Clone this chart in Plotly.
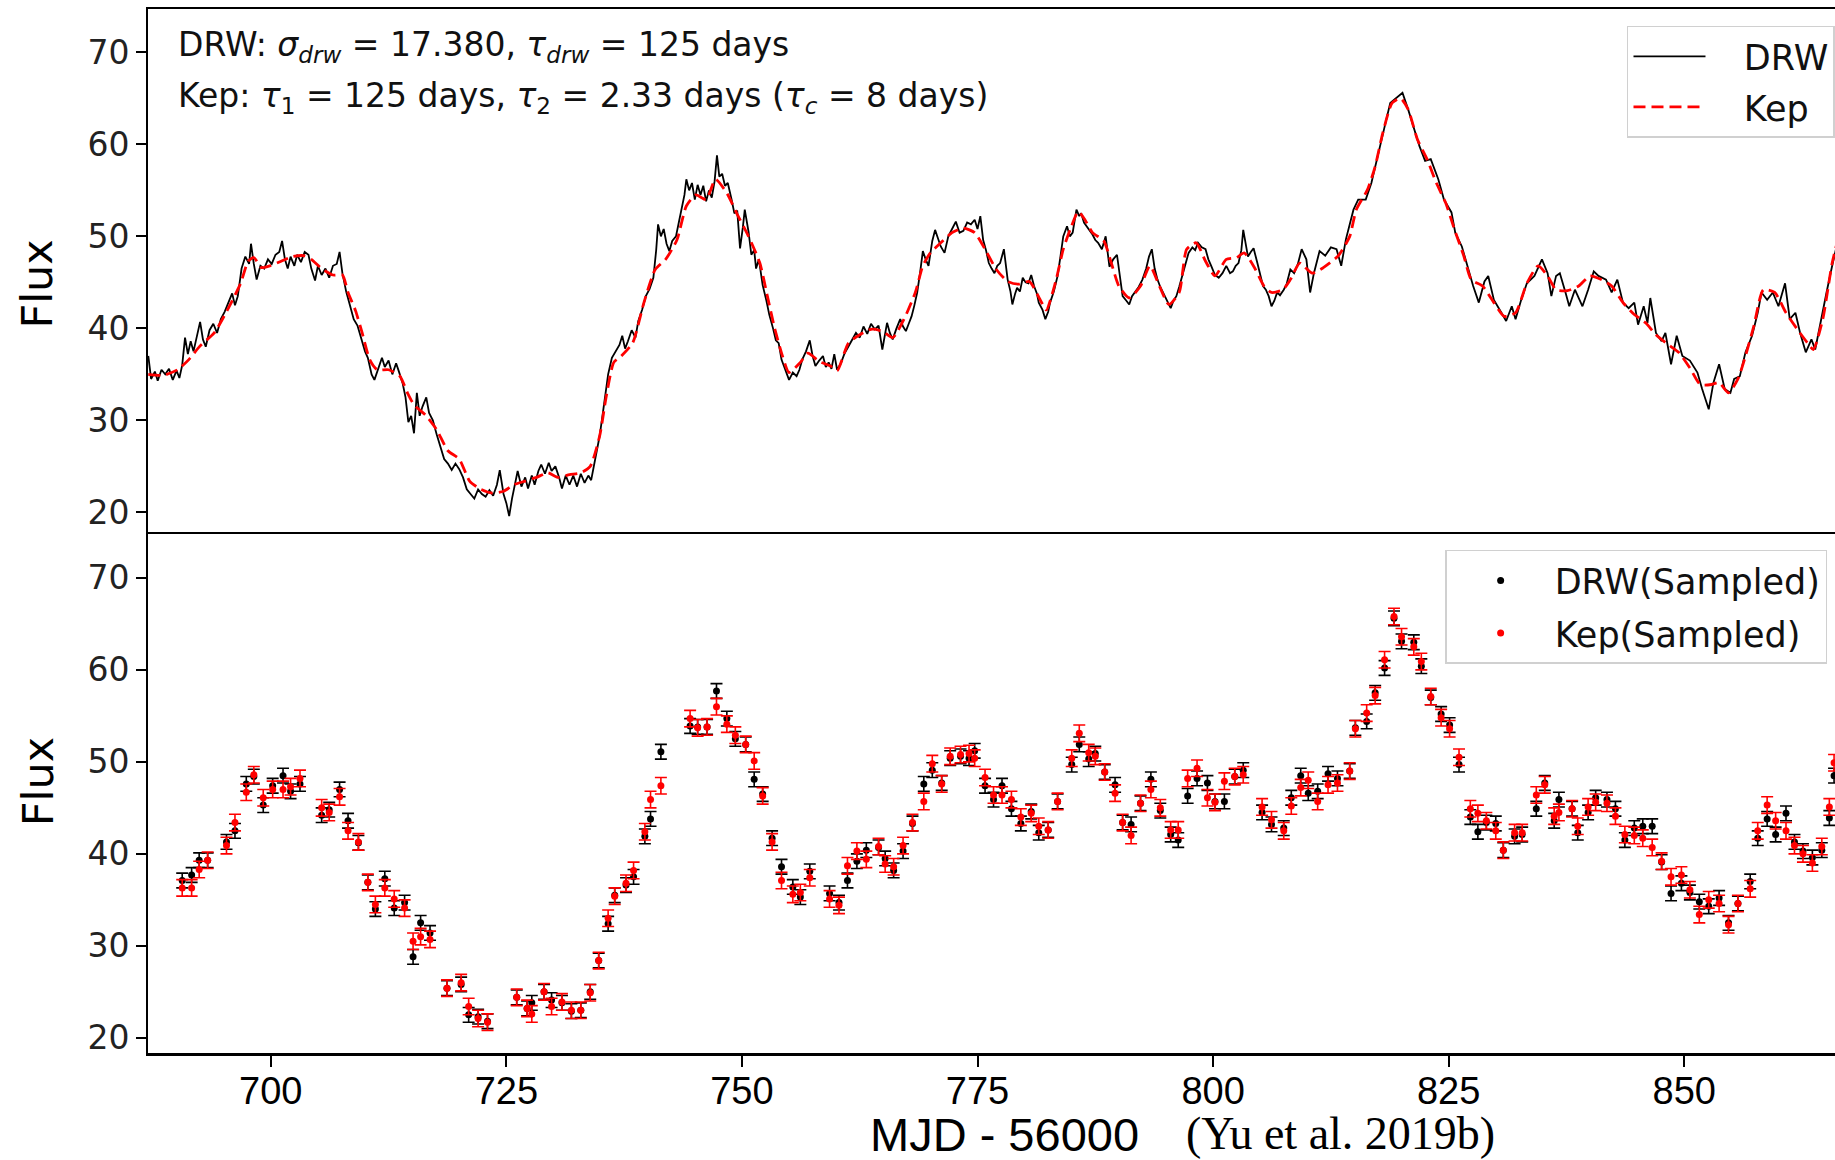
import plotly.graph_objects as go

# ---------------- continuous light curves (top panel) ----------------
drw_t = [687.0, 687.3, 687.7, 688.0, 688.4, 688.8, 689.2, 689.6, 690.0, 690.3, 690.6, 690.9, 691.2, 691.5, 691.8,
         692.1, 692.5, 692.8, 693.1, 693.5, 693.9, 694.3, 694.7, 695.1, 695.5, 695.9, 696.2, 696.5, 696.9, 697.3,
         697.7, 697.9, 698.2, 698.5, 698.9, 699.3, 699.7, 700.1, 700.5, 700.9, 701.2, 701.5, 701.8, 702.1, 702.5,
         702.8, 703.2, 703.6, 704.0, 704.3, 704.7, 705.0, 705.4, 705.8, 706.2, 706.6, 707.0, 707.3, 707.6, 708.0,
         708.4, 708.8, 709.2, 709.6, 710.0, 710.3, 710.7, 711.0, 711.4, 711.8, 712.1, 712.5, 712.9, 713.3, 713.6,
         714.0, 714.3, 714.6, 714.9, 715.2, 715.5, 715.8, 716.1, 716.5, 716.8, 717.2, 717.6, 718.0, 718.4, 718.8,
         719.2, 719.6, 720.0, 720.4, 720.8, 721.2, 721.6, 722.0, 722.4, 722.8, 723.2, 723.6, 724.0, 724.3, 724.7,
         725.0, 725.3, 725.6, 725.9, 726.2, 726.6, 727.0, 727.3, 727.7, 728.0, 728.4, 728.7, 729.1, 729.5, 729.8,
         730.2, 730.6, 730.9, 731.3, 731.7, 732.1, 732.5, 732.9, 733.3, 733.7, 734.0, 734.3, 734.6, 734.9, 735.2,
         735.5, 735.8, 736.2, 736.6, 737.0, 737.3, 737.6, 737.9, 738.3, 738.7, 739.0, 739.4, 739.8, 740.2, 740.6,
         740.9, 741.1, 741.4, 741.7, 742.0, 742.3, 742.6, 743.0, 743.3, 743.6, 743.9, 744.1, 744.4, 744.7, 745.0,
         745.3, 745.6, 745.9, 746.2, 746.5, 746.8, 747.1, 747.35, 747.6, 747.9, 748.2, 748.5, 748.9, 749.2, 749.5,
         749.8, 750.1, 750.3, 750.7, 751.0, 751.3, 751.5, 751.8, 752.2, 752.6, 752.9, 753.3, 753.6, 753.9, 754.2,
         754.6, 755.0, 755.4, 755.8, 756.1, 756.4, 756.8, 757.2, 757.5, 757.8, 758.2, 758.6, 758.9, 759.2, 759.5,
         759.8, 760.1, 760.5, 760.9, 761.3, 761.7, 762.1, 762.5, 762.9, 763.3, 763.7, 764.1, 764.5, 764.9, 765.2,
         765.4, 765.7, 766.0, 766.4, 766.8, 767.1, 767.4, 767.7, 768.0, 768.3, 768.6, 768.9, 769.2, 769.5, 769.8,
         770.2, 770.5, 770.8, 771.1, 771.5, 771.9, 772.3, 772.7, 773.1, 773.5, 773.9, 774.3, 774.7, 775.0, 775.3,
         775.6, 775.9, 776.2, 776.5, 776.8, 777.1, 777.4, 777.8, 778.2, 778.5, 778.7, 779.0, 779.2, 779.5, 779.8,
         780.1, 780.4, 780.7, 781.0, 781.3, 781.5, 781.9, 782.2, 782.5, 782.7, 783.1, 783.5, 783.8, 784.1, 784.5,
         784.8, 785.1, 785.5, 785.8, 786.0, 786.3, 786.6, 786.9, 787.2, 787.5, 787.8, 788.2, 788.6, 789.0, 789.4,
         789.8, 790.1, 790.4, 790.8, 791.1, 791.4, 791.7, 792.1, 792.5, 792.9, 793.2, 793.5, 793.8, 794.1, 794.4,
         794.7, 795.1, 795.5, 795.8, 796.1, 796.4, 796.6, 797.0, 797.4, 797.8, 798.1, 798.4, 798.8, 799.2, 799.5,
         799.8, 800.2, 800.6, 801.0, 801.4, 801.8, 802.1, 802.4, 802.7, 803.0, 803.2, 803.5, 803.7, 804.0, 804.3,
         804.7, 805.0, 805.3, 805.6, 805.9, 806.2, 806.5, 806.8, 807.1, 807.5, 807.8, 808.2, 808.6, 809.0, 809.4,
         809.9, 810.3, 810.7, 811.3, 811.9, 812.5, 813.1, 813.6, 814.1, 814.9, 815.4, 816.2, 816.8, 817.6, 818.2,
         818.8, 819.4, 820.1, 820.7, 821.3, 821.9, 822.5, 823.1, 823.9, 824.5, 825.3, 825.7, 826.4, 827.0, 827.6,
         828.2, 828.8, 829.2, 829.8, 830.6, 831.1, 831.7, 832.1, 832.7, 833.3, 834.1, 834.9, 835.5, 835.9, 836.4,
         836.8, 837.4, 837.8, 838.4, 839.2, 839.8, 840.4, 840.9, 841.7, 842.3, 842.9, 843.5, 844.1, 844.7, 845.1,
         845.7, 846.1, 846.4, 847.0, 847.6, 848.0, 848.6, 849.2, 849.8, 850.6, 851.4, 851.9, 852.6, 853.1, 853.7,
         854.3, 854.9, 855.3, 855.9, 856.5, 857.2, 857.8, 858.2, 858.8, 859.4, 860.0, 860.7, 861.2, 861.8, 862.3,
         862.9, 863.5, 863.9, 864.5, 865.1, 865.7, 866.5]
drw_f = [37.0, 34.5, 35.3, 34.3, 35.5, 35.0, 35.6, 34.4, 35.4, 34.6, 36.0, 39.0, 37.2, 38.6, 37.5,
         39.0, 40.7, 38.8, 38.0, 39.8, 40.5, 39.5, 41.0, 41.8, 42.8, 43.8, 42.5, 43.5, 46.5, 47.8,
         47.0, 49.2, 47.0, 45.3, 46.8, 46.5, 47.5, 47.0, 48.0, 48.3, 49.5, 47.5, 46.5, 47.8, 46.8,
         48.0, 47.2, 48.3, 48.0, 46.5, 45.2, 46.8, 45.8, 46.5, 45.5, 46.8, 47.0, 48.3, 46.0, 44.0,
         42.5, 41.0, 40.3, 39.0, 37.5, 36.8, 35.0, 34.4, 35.5, 36.8, 35.8, 36.5, 35.0, 36.2, 35.3,
         34.0, 32.5, 29.8, 30.5, 28.6, 33.0, 30.5, 31.5, 32.5, 30.8, 30.0, 28.5, 27.2, 25.8, 25.3,
         24.6, 25.3, 24.7, 23.8, 22.5, 22.0, 21.5, 22.5, 22.0, 21.7, 22.4, 21.8, 23.0, 24.6, 22.0,
         21.0, 19.6, 21.5, 23.0, 24.5, 22.8, 23.8, 22.6, 24.0, 23.0, 24.5, 25.2, 24.2, 25.4, 24.5,
         25.0, 23.8, 22.6, 24.0, 23.0, 24.0, 22.8, 24.2, 23.2, 24.0, 23.5, 25.0, 26.5, 28.3, 30.5,
         32.8, 35.0, 36.8, 37.5, 38.2, 39.2, 37.8, 38.6, 39.8, 39.0, 40.8, 42.0, 43.5, 44.3, 45.5,
         48.5, 51.3, 50.0, 50.8, 49.2, 48.4, 49.5, 50.0, 51.5, 53.0, 54.5, 56.2, 55.0, 55.8, 54.0,
         55.6, 54.5, 55.5, 53.8, 55.0, 54.2, 56.0, 58.8, 56.5, 56.8, 55.5, 55.8, 54.0, 52.5, 52.8,
         48.7, 51.0, 52.9, 50.5, 48.0, 48.5, 46.5, 47.5, 44.7, 43.0, 41.5, 40.0, 38.7, 38.4, 36.6,
         35.5, 34.4, 35.2, 34.8, 35.5, 36.6, 37.5, 38.7, 37.0, 35.9, 36.5, 37.0, 35.8, 36.3, 35.6,
         37.2, 35.5, 36.2, 37.3, 38.0, 38.8, 39.5, 39.0, 40.2, 39.4, 40.5, 39.9, 40.3, 37.7, 39.5,
         40.6, 39.5, 38.8, 40.0, 41.0, 40.2, 39.7, 40.5, 41.3, 42.5, 43.9, 46.0, 48.4, 47.5, 46.8,
         49.5, 50.7, 49.8, 48.9, 48.2, 50.0, 50.8, 51.6, 50.4, 50.6, 51.5, 51.3, 51.8, 50.8, 52.2,
         49.6, 48.5, 47.1, 46.5, 46.0, 46.8, 47.1, 48.6, 45.3, 44.0, 42.6, 43.8, 44.4, 44.0, 45.5,
         45.0, 44.9, 45.8, 44.6, 43.8, 42.8, 42.0, 41.0, 41.8, 42.8, 44.0, 45.7, 47.8, 50.0, 51.1,
         50.0, 50.4, 52.9, 52.2, 52.5, 51.5, 51.1, 50.6, 50.2, 49.6, 49.3, 48.6, 50.0, 46.7, 47.5,
         48.0, 45.5, 43.5, 43.0, 42.6, 43.5, 43.9, 44.5, 45.3, 46.5, 47.8, 48.6, 46.5, 45.3, 44.5,
         43.9, 43.0, 42.2, 43.0, 43.5, 44.5, 45.3, 46.8, 48.2, 48.8, 48.5, 49.3, 48.8, 48.6, 47.5,
         46.8, 45.8, 45.5, 46.0, 46.8, 46.0, 46.2, 46.8, 47.1, 48.5, 50.7, 49.0, 47.8, 48.3, 48.7,
         47.1, 45.7, 44.6, 44.2, 43.5, 42.4, 43.0, 43.9, 43.6, 44.2, 44.8, 46.4, 46.0, 47.0, 48.6,
         47.5, 43.9, 46.0, 48.4, 47.9, 48.8, 48.6, 46.8, 49.7, 52.9, 54.0, 54.0, 55.8, 59.1, 61.9,
         64.5, 65.0, 65.6, 63.8, 61.9, 59.8, 58.2, 58.4, 56.2, 54.0, 52.6, 50.4, 48.9, 46.8, 44.6,
         42.8, 45.1, 45.7, 43.1, 41.7, 40.8, 42.4, 41.0, 43.1, 44.9, 45.7, 47.5, 46.0, 43.5, 45.7,
         46.0, 43.9, 42.4, 44.2, 42.4, 44.2, 46.2, 45.7, 45.3, 43.9, 45.3, 42.8, 42.2, 42.8, 40.4,
         42.4, 40.6, 43.3, 39.5, 38.6, 39.5, 36.1, 39.2, 37.0, 36.5, 35.2, 33.4, 31.2, 34.1, 36.1,
         33.4, 33.0, 34.5, 34.8, 37.4, 39.2, 41.7, 43.9, 43.1, 43.9, 42.4, 44.9, 41.0, 41.7, 39.5,
         37.4, 38.8, 37.7, 41.0, 43.9, 46.8, 50.4]

kep_t = [687.0, 688.6, 690.1, 691.3, 692.5, 694.0, 695.6, 696.8, 697.6, 698.2, 699.0, 699.9, 701.1, 702.3, 703.5,
         704.3, 705.4, 706.6, 707.6, 708.2, 709.0, 709.7, 710.5, 711.3, 712.5, 713.7, 714.5, 715.2, 716.4, 717.6,
         718.8, 720.0, 721.1, 722.3, 723.5, 724.7, 725.8, 727.0, 728.2, 729.4, 730.5, 731.7, 732.9, 733.9, 734.9,
         735.6, 736.4, 737.2, 738.4, 739.6, 740.8, 741.9, 743.1, 744.1, 745.1, 746.2, 747.2, 748.4, 749.5, 750.7,
         751.9, 752.7, 753.5, 754.3, 755.0, 756.2, 757.0, 758.2, 759.4, 760.1, 761.3, 762.5, 763.7, 764.9, 766.0,
         767.2, 768.4, 769.2, 770.0, 771.1, 772.3, 773.5, 774.7, 775.8, 777.0, 778.2, 779.4, 780.5, 781.7, 782.3,
         783.3, 784.1, 784.9, 785.7, 786.4, 787.2, 788.4, 789.2, 790.0, 791.1, 792.3, 793.3, 794.3, 795.3, 796.4,
         797.2, 798.2, 799.2, 800.2, 801.4, 802.5, 803.3, 804.5, 805.4, 806.2, 807.4, 808.2, 809.2, 810.5, 811.7,
         813.3, 814.5, 815.2, 816.4, 817.2, 818.0, 819.0, 819.9, 820.7, 821.7, 822.7, 823.7, 824.7, 825.6, 826.6,
         827.4, 828.6, 829.8, 830.9, 832.1, 833.3, 834.5, 835.5, 836.4, 837.6, 838.8, 840.0, 841.2, 842.3, 843.5,
         844.7, 845.9, 847.0, 848.2, 849.4, 850.6, 851.7, 852.9, 853.7, 854.7, 855.7, 856.5, 857.4, 858.4, 859.6,
         860.8, 862.0, 863.1, 863.7, 864.7, 865.7, 866.5]
kep_f = [35.0, 34.9, 35.5, 36.6, 38.1, 39.5, 42.4, 44.9, 47.3, 47.7, 46.6, 46.8, 47.3, 47.8, 47.9,
         47.5, 46.5, 45.8, 45.8, 43.9, 41.9, 39.5, 36.6, 35.5, 35.5, 34.8, 33.0, 31.7, 30.6, 29.0,
         26.7, 25.8, 23.4, 22.5, 22.1, 22.3, 23.0, 23.4, 23.8, 24.3, 23.8, 24.1, 24.3, 25.0, 28.3,
         32.6, 36.3, 37.0, 38.4, 42.8, 46.4, 47.5, 49.6, 53.3, 54.5, 54.0, 56.2, 54.7, 52.4, 50.0,
         47.1, 43.5, 39.9, 37.0, 35.2, 36.3, 37.3, 36.4, 35.9, 35.4, 38.4, 39.3, 39.9, 39.7, 39.0,
         41.0, 43.9, 46.8, 48.2, 49.3, 50.4, 50.9, 50.4, 48.6, 46.4, 45.1, 44.8, 45.1, 43.0, 42.0,
         45.1, 48.6, 50.9, 52.7, 51.8, 50.4, 49.5, 47.1, 44.6, 43.3, 44.6, 46.8, 44.6, 42.6, 43.9,
         48.6, 49.3, 47.3, 45.7, 47.5, 47.7, 48.2, 46.4, 44.6, 43.9, 44.2, 45.3, 47.1, 46.0, 46.6,
         47.9, 50.0, 52.9, 55.1, 57.6, 61.2, 64.5, 65.0, 63.8, 60.5, 58.4, 55.8, 53.6, 50.8, 47.9,
         45.3, 44.6, 42.8, 41.3, 41.7, 44.9, 46.8, 45.7, 44.2, 44.1, 44.6, 45.7, 45.3, 44.6, 42.8,
         41.5, 40.6, 39.3, 38.3, 37.4, 35.7, 33.9, 33.9, 34.1, 33.0, 34.5, 37.0, 40.3, 44.2, 43.9,
         41.7, 39.9, 38.4, 37.7, 41.0, 47.1, 50.4]

# ---------------- sampled light curves (bottom panel) ----------------
sample_t = [690.6, 691.6, 692.4, 693.3, 695.3, 696.2, 697.4, 698.2, 699.2, 700.2, 701.3, 702.1, 703.1, 705.4, 706.2,
            707.3, 708.2, 709.3, 710.3, 711.1, 712.1, 713.1, 714.2, 715.1, 715.9, 716.9, 718.7, 720.2, 721.0, 722.0,
            723.0, 726.1, 727.2, 727.7, 729.0, 729.8, 730.9, 731.9, 732.9, 733.9, 734.8, 735.8, 736.5, 737.7, 738.5,
            739.7, 740.3, 741.4, 744.5, 745.3, 746.3, 747.3, 748.4, 749.3, 750.4, 751.3, 752.2, 753.2, 754.2, 755.4,
            756.2, 757.2, 759.3, 760.3, 761.2, 762.2, 763.2, 764.5, 765.2, 766.1, 767.1, 768.1, 769.3, 770.2, 771.2,
            772.1, 773.2, 774.1, 774.7, 775.8, 776.7, 777.6, 778.6, 779.6, 780.7, 781.5, 782.5, 783.5, 785.0, 785.8,
            786.8, 787.5, 788.5, 789.6, 790.4, 791.3, 792.3, 793.4, 794.4, 795.5, 796.3, 797.3, 798.3, 799.4, 800.2,
            801.2, 802.3, 803.2, 805.2, 806.2, 807.5, 808.3, 809.3, 810.1, 811.1, 812.2, 813.2, 814.5, 815.1, 816.3,
            817.2, 818.2, 819.2, 820.0, 821.3, 822.1, 823.1, 824.2, 825.1, 826.1, 827.3, 828.1, 829.0, 830.0, 830.8,
            832.0, 832.8, 834.3, 835.2, 836.2, 836.7, 838.1, 838.7, 839.8, 840.6, 841.8, 842.7, 843.7, 844.7, 845.6,
            846.6, 847.6, 848.6, 849.7, 850.6, 851.6, 852.6, 853.7, 854.7, 855.7, 857.0, 857.8, 858.8, 859.7, 860.8,
            861.7, 862.6, 863.6, 864.6, 865.4, 865.9]
drw_sampled = [37.1, 37.7, 39.3, 39.3, 41.3, 42.5, 47.6, 48.4, 45.3, 47.4, 48.5, 46.8, 47.6, 44.2, 44.8,
               47.0, 43.6, 41.2, 36.9, 34.0, 37.3, 34.1, 34.7, 28.8, 32.5, 31.4, 25.4, 25.8, 22.5, 22.3,
               21.8, 24.4, 23.2, 23.8, 25.0, 24.1, 23.8, 22.9, 23.0, 25.0, 28.4, 32.4, 35.5, 36.6, 37.5,
               41.9, 43.8, 51.1, 53.9, 53.8, 53.8, 57.7, 54.7, 52.5, 51.9, 48.1, 46.5, 41.7, 38.6, 36.4,
               35.3, 38.1, 35.7, 34.7, 37.1, 39.2, 40.4, 40.7, 39.5, 38.2, 40.3, 43.3, 47.6, 49.1, 47.7,
               50.4, 50.6, 50.4, 51.2, 47.4, 45.9, 47.4, 44.9, 43.3, 44.6, 42.3, 42.6, 45.7, 49.7, 51.9,
               50.3, 50.9, 48.9, 47.5, 43.4, 43.2, 45.5, 48.1, 44.7, 42.1, 41.5, 46.3, 48.2, 47.7, 45.7,
               45.7, 48.4, 49.1, 44.5, 43.2, 42.8, 46.1, 48.5, 46.6, 46.8, 48.7, 48.2, 49.0, 53.7, 54.4,
               57.5, 60.2, 65.6, 63.1, 63.0, 60.4, 57.0, 55.2, 54.0, 49.7, 44.0, 42.4, 43.4, 43.3, 40.4,
               41.9, 42.1, 44.9, 47.7, 43.6, 45.9, 44.9, 42.3, 44.5, 46.1, 45.9, 44.9, 41.5, 42.8, 43.0,
               43.0, 39.1, 35.7, 36.8, 35.8, 34.8, 34.3, 35.2, 32.5, 34.6, 37.0, 41.7, 43.8, 42.1, 44.4,
               41.3, 40.3, 39.6, 40.4, 43.9, 48.5]
kep_sampled = [36.3, 36.3, 38.3, 39.3, 40.9, 43.4, 46.7, 48.6, 46.1, 47.0, 47.0, 47.3, 48.2, 45.0, 44.5,
               46.2, 42.5, 41.3, 36.9, 34.5, 36.3, 35.1, 34.1, 30.5, 31.0, 30.7, 25.4, 26.0, 23.4, 22.1,
               21.7, 24.4, 23.2, 22.6, 25.0, 23.4, 23.9, 23.0, 23.0, 24.9, 28.4, 33.0, 35.4, 36.8, 38.2,
               42.4, 45.9, 47.4, 54.7, 53.7, 53.8, 56.0, 54.1, 52.9, 51.9, 50.1, 46.3, 41.3, 37.1, 35.6,
               35.8, 37.4, 35.1, 34.4, 38.7, 40.3, 39.4, 40.8, 38.9, 38.6, 40.9, 43.4, 45.7, 49.8, 47.6,
               50.6, 50.8, 50.9, 50.4, 48.3, 46.4, 46.4, 45.9, 44.0, 44.4, 43.0, 42.6, 45.7, 50.4, 53.1,
               51.0, 50.6, 48.9, 46.6, 43.4, 42.0, 45.5, 47.0, 45.0, 42.6, 42.6, 48.2, 49.3, 46.1, 45.6,
               47.9, 48.4, 48.6, 45.1, 43.7, 42.5, 45.2, 47.2, 48.0, 45.7, 47.5, 47.7, 49.0, 53.6, 55.3,
               57.2, 61.1, 65.8, 63.6, 62.5, 60.9, 57.1, 54.8, 53.6, 50.5, 44.9, 44.4, 43.6, 42.5, 40.4,
               42.3, 42.3, 46.4, 47.5, 44.1, 44.5, 44.9, 43.0, 45.1, 45.6, 45.5, 44.1, 42.1, 42.0, 41.7,
               40.7, 39.2, 37.5, 37.7, 36.1, 33.4, 35.0, 34.6, 32.3, 34.6, 36.2, 42.5, 45.3, 43.6, 42.5,
               40.9, 40.0, 39.0, 40.8, 45.1, 49.9]
DRW_ERR = 0.8
KEP_ERR = 0.9

x_ticks = [700, 725, 750, 775, 800, 825, 850]
y_ticks = [20, 30, 40, 50, 60, 70]
X_RANGE = [686.97, 866.0]
Y_RANGE_TOP = [17.84, 74.71]
Y_RANGE_BOT = [18.35, 74.96]

SANS = "DejaVu Sans"
NB = "\u00a0"

fig = go.Figure()

fig.add_trace(go.Scatter(x=drw_t, y=drw_f, mode="lines", name=NB * 3 + "DRW",
                         line=dict(color="black", width=1.8),
                         xaxis="x2", yaxis="y2", legend="legend", legendgroup="g1"))
fig.add_trace(go.Scatter(x=kep_t, y=kep_f, mode="lines", name=NB * 3 + "Kep",
                         line=dict(color="#ff0000", width=2.8, dash="12px,6px", shape="spline", smoothing=0.6),
                         xaxis="x2", yaxis="y2", legend="legend", legendgroup="g2"))

fig.add_trace(go.Scatter(x=sample_t, y=drw_sampled, mode="markers", name="DRW(Sampled)",
                         marker=dict(color="black", size=7),
                         error_y=dict(type="constant", value=DRW_ERR, color="black", thickness=1.6, width=6),
                         xaxis="x", yaxis="y", legend="legend2", legendgroup="g3"))
fig.add_trace(go.Scatter(x=sample_t, y=kep_sampled, mode="markers", name="Kep(Sampled)",
                         marker=dict(color="#ff0000", size=7),
                         error_y=dict(type="constant", value=KEP_ERR, color="#ff0000", thickness=1.6, width=6),
                         xaxis="x", yaxis="y", legend="legend2", legendgroup="g4"))

split = 0.4988
axis_common = dict(showgrid=False, zeroline=False, linecolor="black", showline=True)

fig.update_layout(
    width=1835, height=1160,
    paper_bgcolor="white", plot_bgcolor="white",
    margin=dict(l=147.5, r=0, t=9.4, b=106.8, autoexpand=False),
    showlegend=True,
    xaxis=dict(domain=[0, 1], anchor="y", range=X_RANGE, tickvals=x_ticks,
               ticks="outside", ticklen=11, tickwidth=2, tickcolor="black",
               linewidth=3, mirror=False, ticklabelstandoff=-9,
               tickfont=dict(family="Liberation Sans, sans-serif", size=38, color="black"),
               **axis_common),
    xaxis2=dict(domain=[0, 1], anchor="y2", range=X_RANGE, matches="x",
                showticklabels=False, ticks="", linewidth=2, mirror=True,
                **axis_common),
    yaxis=dict(domain=[0, split], anchor="x", range=Y_RANGE_BOT, tickvals=y_ticks,
               ticks="outside", ticklen=10, tickwidth=2, tickcolor="black", linewidth=2,
               tickfont=dict(family=SANS, size=33, color="#222222"), **axis_common),
    yaxis2=dict(domain=[split, 1], anchor="x2", range=Y_RANGE_TOP, tickvals=y_ticks,
                ticks="outside", ticklen=10, tickwidth=2, tickcolor="black", linewidth=2,
                tickfont=dict(family=SANS, size=33, color="#222222"), **axis_common),
    legend=dict(x=0.8767, y=0.9841, xanchor="left", yanchor="top",
                font=dict(family=SANS, size=35, color="#111111"),
                bgcolor="rgba(255,255,255,0.85)", bordercolor="#d0d0d0", borderwidth=1.5,
                itemwidth=72, tracegroupgap=2),
    legend2=dict(x=0.7689, y=0.4821, xanchor="left", yanchor="top",
                 font=dict(family=SANS, size=35, color="#111111"),
                 bgcolor="rgba(255,255,255,0.85)", bordercolor="#d0d0d0", borderwidth=1.5,
                 itemwidth=98, tracegroupgap=4),
)

annotations = [
    dict(text="DRW: <i>σ</i><sub><i>drw</i></sub> = 17.380, <i>τ</i><sub><i>drw</i></sub> = 125 days",
         x=0.0166, y=0.9642, xanchor="left", yanchor="middle"),
    dict(text="Kep: <i>τ</i><sub>1</sub> = 125 days, <i>τ</i><sub>2</sub> = 2.33 days (<i>τ</i><sub><i>c</i></sub> = 8 days)",
         x=0.0166, y=0.9148, xanchor="left", yanchor="middle"),
]
for a in annotations:
    a.update(xref="paper", yref="paper", showarrow=False, align="left",
             font=dict(family=SANS, size=33, color="#111111"))

annotations += [
    dict(text="Flux", x=-0.0655, y=0.7365, textangle=-90),
    dict(text="Flux", x=-0.0655, y=0.2598, textangle=-90),
]
for a in annotations[2:]:
    a.update(xref="paper", yref="paper", showarrow=False, xanchor="center", yanchor="middle",
             font=dict(family=SANS, size=43, color="black"))

annotations += [
    dict(text="MJD - 56000", x=0.5076, y=-0.0784, xref="paper", yref="paper", showarrow=False,
         xanchor="center", yanchor="middle",
         font=dict(family="Liberation Sans, sans-serif", size=47, color="black")),
    dict(text="(Yu et al. 2019b)", x=0.7067, y=-0.0775, xref="paper", yref="paper", showarrow=False,
         xanchor="center", yanchor="middle",
         font=dict(family="Liberation Serif, serif", size=46, color="black")),
]
fig.update_layout(annotations=annotations)

fig.write_html("out.html")
